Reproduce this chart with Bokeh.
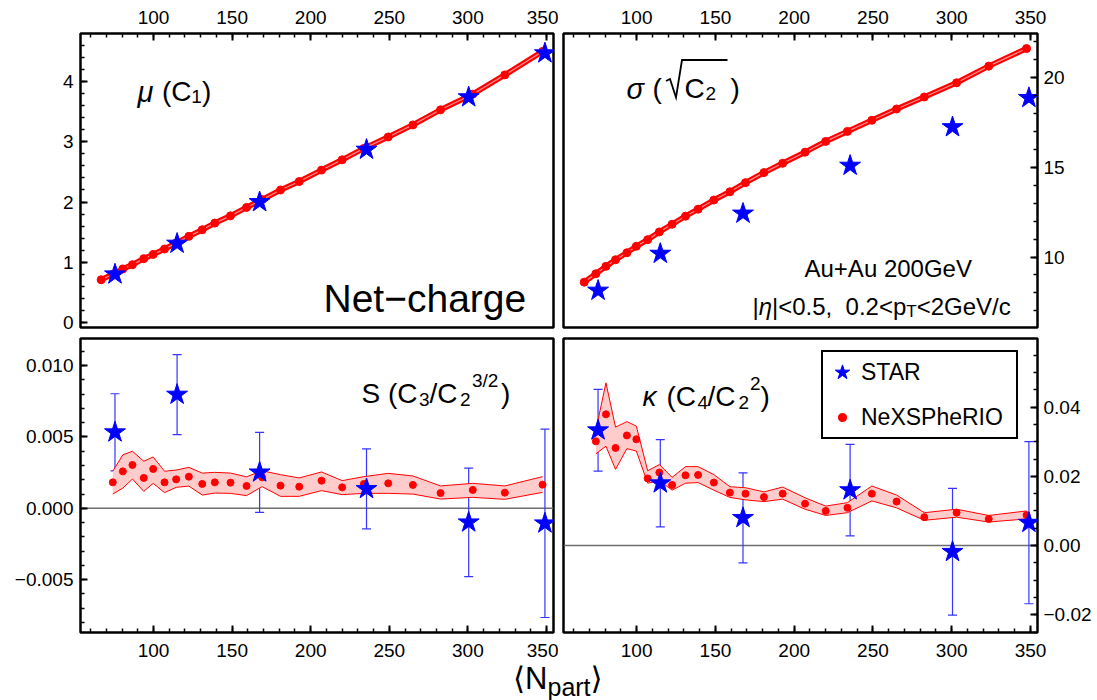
from bokeh.plotting import figure
from bokeh.layouts import column, row
from bokeh.models import (Range1d, SingleIntervalTicker, CustomJSTickFormatter, Label,
                          Whisker, TeeHead, ColumnDataSource, Span, Legend, LegendItem, Div)
from bokeh.embed import file_html
from bokeh.resources import INLINE

FONT = "Liberation Sans"
RED = "#ff0000"
BLUE = "#0000ff"

# ---------------- data ----------------
npart_star = [75.5, 115.0, 167.5, 235.5, 300.5, 349.0]
star_mu = [0.80, 1.31, 2.00, 2.87, 3.74, 4.47]
star_sigma = [8.13, 10.19, 12.43, 15.10, 17.25, 18.88]
star_S = [0.00533, 0.00797, 0.00252, 0.00136, -0.00098, -0.00105]
star_S_err = [0.0027, 0.0028, 0.0028, 0.0028, 0.0038, 0.0066]
star_kappa = [0.0333, 0.0180, 0.0080, 0.0160, -0.0018, 0.0066]
star_kappa_err = [0.0118, 0.0126, 0.0130, 0.0132, 0.0183, 0.0234]

npart_model = [66.7, 74.1, 80.5, 86.6, 93.8, 99.8, 107.0, 114.4, 122.5, 131.0, 139.0, 149.0,
               159.2, 169.1, 180.8, 192.7, 206.9, 220.0, 233.8, 249.3, 265.0, 282.6, 303.1,
               323.5, 347.5]
model_mu = [0.71, 0.80, 0.89, 0.96, 1.06, 1.13, 1.22, 1.32, 1.43, 1.54, 1.65, 1.77, 1.91,
            2.04, 2.20, 2.34, 2.53, 2.70, 2.89, 3.08, 3.28, 3.53, 3.79, 4.11, 4.50]
model_sigma = [8.60, 9.07, 9.48, 9.85, 10.24, 10.60, 10.97, 11.40, 11.83, 12.28, 12.67, 13.18,
               13.64, 14.15, 14.71, 15.23, 15.85, 16.45, 17.01, 17.63, 18.26, 18.93, 19.72,
               20.65, 21.63]
# higher cumulants start from the second centrality point
model_S = [0.00182, 0.00259, 0.00304, 0.00213, 0.00276, 0.00182, 0.00203, 0.00222, 0.00171,
           0.00182, 0.00180, 0.00157, 0.00217, 0.00159, 0.00152, 0.00194, 0.00147, 0.00171,
           0.00175, 0.00164, 0.00107, 0.00129, 0.00110, 0.00166]
model_S_hi = [0.00260, 0.00375, 0.00400, 0.00330, 0.00360, 0.00260, 0.00268, 0.00287, 0.00247,
              0.00252, 0.00247, 0.00221, 0.00263, 0.00236, 0.00213, 0.00255, 0.00194, 0.00222,
              0.00245, 0.00227, 0.00157, 0.00175, 0.00157, 0.00222]
model_S_lo = [0.00100, 0.00142, 0.00205, 0.00119, 0.00175, 0.00110, 0.00147, 0.00156, 0.00093,
              0.00107, 0.00105, 0.00089, 0.00152, 0.00084, 0.00084, 0.00124, 0.00096, 0.00105,
              0.00105, 0.00100, 0.00065, 0.00077, 0.00063, 0.00112]
model_kappa = [0.0301, 0.0379, 0.0282, 0.0318, 0.0307, 0.0194, 0.0211, 0.0175, 0.0203, 0.0204,
               0.0182, 0.0153, 0.0150, 0.0140, 0.0150, 0.0121, 0.0100, 0.0109, 0.0150, 0.0127,
               0.0082, 0.0095, 0.0077, 0.0088]
model_kappa_hi = [0.0333, 0.0470, 0.0342, 0.0358, 0.0345, 0.0216, 0.0234, 0.0197, 0.0228, 0.0228,
                  0.0205, 0.0170, 0.0167, 0.0155, 0.0169, 0.0138, 0.0114, 0.0124, 0.0172, 0.0146,
                  0.0095, 0.0105, 0.0087, 0.0100]
model_kappa_lo = [0.0265, 0.0287, 0.0220, 0.0280, 0.0273, 0.0180, 0.0188, 0.0160, 0.0180, 0.0182,
                  0.0160, 0.0139, 0.0132, 0.0127, 0.0134, 0.0105, 0.0087, 0.0095, 0.0129, 0.0109,
                  0.0073, 0.0082, 0.0068, 0.0077]

XR = (53.56, 354.45)
YR = {"tl": (-0.083, 4.797), "tr": (6.07, 22.47), "bl": (-0.0087, 0.0119), "br": (-0.0251, 0.0598)}
# frame boxes (page px) used only to place the annotation texts
REF = {"tl": (80, 33, 553, 327), "tr": (563, 33, 1037, 327),
       "bl": (80, 338, 553, 632), "br": (563, 338, 1037, 632)}


def to_data(key, px, py):
    x0, y0, x1, y1 = REF[key]
    yr = YR[key]
    X = XR[0] + (px - x0) / (x1 - x0) * (XR[1] - XR[0])
    Y = yr[1] - (py - y0) / (y1 - y0) * (yr[1] - yr[0])
    return X, Y


def put(p, key, px, py, text, size, style="normal"):
    X, Y = to_data(key, px, py)
    p.add_layout(Label(x=X, y=Y, text=text, text_font=FONT, text_font_size=f"{size}px",
                       text_font_style=style, text_color="black", text_align="left",
                       text_baseline="alphabetic"))


def fmt(nd):
    return CustomJSTickFormatter(code=f"""
        const s = Math.abs(tick).toFixed({nd});
        return (tick < -1e-12 ? '\\u2212' : '') + s;""")


def make_fig(key, w, h, bl, br, bt, bb, xloc, yloc, yint, ymin, yformatter=None):
    p = figure(width=w, height=h, x_range=Range1d(*XR), y_range=Range1d(*YR[key]),
               x_axis_location=xloc, y_axis_location=yloc,
               output_backend="svg", toolbar_location=None,
               min_border_left=bl, min_border_right=br, min_border_top=bt, min_border_bottom=bb)
    p.xgrid.visible = False
    p.ygrid.visible = False
    p.outline_line_color = "black"
    p.outline_line_width = 2.5
    p.outline_line_alpha = 1.0
    p.background_fill_color = "white"
    p.border_fill_color = "white"
    p.xaxis.ticker = SingleIntervalTicker(interval=50, num_minor_ticks=5)
    p.yaxis.ticker = SingleIntervalTicker(interval=yint, num_minor_ticks=ymin)
    if yformatter is not None:
        p.yaxis.formatter = yformatter
    for ax in p.axis:
        ax.axis_line_color = None
        ax.major_tick_in = 7
        ax.major_tick_out = 0
        ax.minor_tick_in = 4
        ax.minor_tick_out = 0
        ax.major_tick_line_width = 2
        ax.minor_tick_line_width = 1.5
        ax.major_tick_line_color = "black"
        ax.minor_tick_line_color = "black"
        ax.major_label_text_font = FONT
        ax.major_label_text_font_size = "19px"
        ax.major_label_text_color = "black"
    p.xaxis.major_label_standoff = 10 if xloc == "above" else 11
    p.yaxis.major_label_standoff = 7 if yloc == "left" else 6
    return p


top_src = ColumnDataSource(dict(x=npart_model, mu=model_mu, sigma=model_sigma))
bot_src = ColumnDataSource(dict(x=npart_model[1:], S=model_S, S_lo=model_S_lo, S_hi=model_S_hi,
                                k=model_kappa, k_lo=model_kappa_lo, k_hi=model_kappa_hi))
star_src = ColumnDataSource(dict(
    x=npart_star, mu=star_mu, sigma=star_sigma, S=star_S, k=star_kappa,
    S_up=[v + e for v, e in zip(star_S, star_S_err)],
    S_dn=[v - e for v, e in zip(star_S, star_S_err)],
    k_up=[v + e for v, e in zip(star_kappa, star_kappa_err)],
    k_dn=[v - e for v, e in zip(star_kappa, star_kappa_err)]))

# ---------------- top-left: mu ----------------
p_tl = make_fig("tl", 558, 332, 80, 5, 33, 5, "above", "left", 1, 5)
p_tl.line("x", "mu", source=top_src, line_color=RED, line_width=5.5)
p_tl.line("x", "mu", source=top_src, line_color="#ff8c8c", line_width=1.2)
p_tl.scatter("x", "mu", source=top_src, size=8, color=RED)
p_tl.scatter("x", "mu", source=star_src, marker="star", size=22, color=BLUE)
put(p_tl, "tl", 137, 91, "μ", 29, "italic")
put(p_tl, "tl", 161.5, 91, "(C", 28)
put(p_tl, "tl", 190.7, 96, "1", 19)
put(p_tl, "tl", 201.5, 91, ")", 28)
put(p_tl, "tl", 323, 298, "Net−charge", 39)

# ---------------- top-right: sigma ----------------
p_tr = make_fig("tr", 537, 332, 5, 58, 33, 5, "above", "right", 5, 5)
p_tr.line("x", "sigma", source=top_src, line_color=RED, line_width=5.5)
p_tr.line("x", "sigma", source=top_src, line_color="#ff8c8c", line_width=1.2)
p_tr.scatter("x", "sigma", source=top_src, size=8, color=RED)
p_tr.scatter("x", "sigma", source=star_src, marker="star", size=22, color=BLUE)
put(p_tr, "tr", 626, 88, "σ", 29, "italic")
put(p_tr, "tr", 652, 88, "(", 28)
put(p_tr, "tr", 684, 88, "C", 28)
put(p_tr, "tr", 705, 93, "2", 19)
put(p_tr, "tr", 730, 88, ")", 28)
# radical sign drawn as a stroke
rad_px = [(665.5, 80.5), (669.5, 78.5), (675.5, 97.0), (681.5, 59.5), (727.0, 59.5)]
rad = [to_data("tr", a, b) for a, b in rad_px]
p_tr.line([r[0] for r in rad], [r[1] for r in rad], line_color="black", line_width=1.8,
          line_join="miter")
put(p_tr, "tr", 804, 268, "Au+Au 200GeV", 24)
put(p_tr, "tr", 752, 306, "|", 24)
put(p_tr, "tr", 758.2, 306, "η", 24, "italic")
put(p_tr, "tr", 771.5, 306, "|<0.5,", 24)
put(p_tr, "tr", 845.1, 306, "0.2<p", 24)
put(p_tr, "tr", 905.8, 311, "T", 17)
put(p_tr, "tr", 916.2, 306, "<2GeV/c", 24)

# ---------------- bottom-left: skewness ----------------
p_bl = make_fig("bl", 558, 333, 80, 5, 6, 33, "below", "left", 0.005, 5, fmt(3))
p_bl.add_layout(Span(location=0, dimension="width", line_color="#6e6e6e", line_width=1.5,
                     level="underlay"))
p_bl.varea("x", y1="S_lo", y2="S_hi", source=bot_src, fill_color="#ffcccc")
p_bl.line("x", "S_lo", source=bot_src, line_color=RED, line_width=1)
p_bl.line("x", "S_hi", source=bot_src, line_color=RED, line_width=1)
p_bl.scatter("x", "S", source=bot_src, size=7, color=RED)
p_bl.add_layout(Whisker(base="x", upper="S_up", lower="S_dn", source=star_src,
                        line_color="#3535ff", line_width=1.2,
                        upper_head=TeeHead(size=9, line_color="#3535ff", line_width=1.2),
                        lower_head=TeeHead(size=9, line_color="#3535ff", line_width=1.2)))
p_bl.scatter("x", "S", source=star_src, marker="star", size=22, color=BLUE)
put(p_bl, "bl", 361, 393, "S", 28)
put(p_bl, "bl", 387.5, 393, "(C", 28)
put(p_bl, "bl", 418.5, 399, "3", 19)
put(p_bl, "bl", 429, 393, "/C", 28)
put(p_bl, "bl", 459.5, 399, "2", 19)
put(p_bl, "bl", 471.5, 380, "3/2", 19)
put(p_bl, "bl", 500.5, 393, ")", 28)

# ---------------- bottom-right: kurtosis ----------------
p_br = make_fig("br", 537, 333, 5, 58, 6, 33, "below", "right", 0.02, 4, fmt(2))
p_br.add_layout(Span(location=0, dimension="width", line_color="#6e6e6e", line_width=1.5,
                     level="underlay"))
p_br.varea("x", y1="k_lo", y2="k_hi", source=bot_src, fill_color="#ffcccc")
p_br.line("x", "k_lo", source=bot_src, line_color=RED, line_width=1)
p_br.line("x", "k_hi", source=bot_src, line_color=RED, line_width=1)
p_br.scatter("x", "k", source=bot_src, size=7, color=RED)
p_br.add_layout(Whisker(base="x", upper="k_up", lower="k_dn", source=star_src,
                        line_color="#3535ff", line_width=1.2,
                        upper_head=TeeHead(size=9, line_color="#3535ff", line_width=1.2),
                        lower_head=TeeHead(size=9, line_color="#3535ff", line_width=1.2)))
r_stars = p_br.scatter("x", "k", source=star_src, marker="star", size=22, color=BLUE)
r_leg_dot = p_br.scatter("x", "k", source=bot_src, size=7, fill_color=RED, line_color="white",
                         line_width=6, visible=False)
put(p_br, "br", 642, 396, "κ", 28, "italic")
put(p_br, "br", 666, 396, "(C", 28)
put(p_br, "br", 697, 402, "4", 19)
put(p_br, "br", 707, 396, "/C", 28)
put(p_br, "br", 738, 402, "2", 19)
put(p_br, "br", 749.5, 383, "2", 19)
put(p_br, "br", 760, 396, ")", 28)

legend = Legend(items=[LegendItem(label="STAR", renderers=[r_stars]),
                       LegendItem(label="NeXSPheRIO", renderers=[r_leg_dot])],
                location=(258, 193), glyph_width=38, glyph_height=40, label_width=155,
                padding=0, spacing=5, label_standoff=0, margin=0,
                border_line_color="black", border_line_width=2.5, border_line_alpha=1.0,
                background_fill_color="white", background_fill_alpha=1.0,
                label_text_font=FONT, label_text_font_size="23px", label_text_color="black")
p_br.add_layout(legend)

xlabel = Div(text=('<div style="font-family:\'Liberation Sans\',\'DejaVu Sans\',sans-serif;'
                   'font-size:31px;line-height:28px;padding-left:513px;padding-top:0px;'
                   'white-space:nowrap;color:black">⟨N<span style="font-size:25px;'
                   'position:relative;top:7px">part</span>⟩</div>'),
             width=1095, height=34, margin=0)

layout = column(row(p_tl, p_tr), row(p_bl, p_br), xlabel)

with open("out.html", "w", encoding="utf-8") as f:
    f.write(file_html(layout, INLINE))
